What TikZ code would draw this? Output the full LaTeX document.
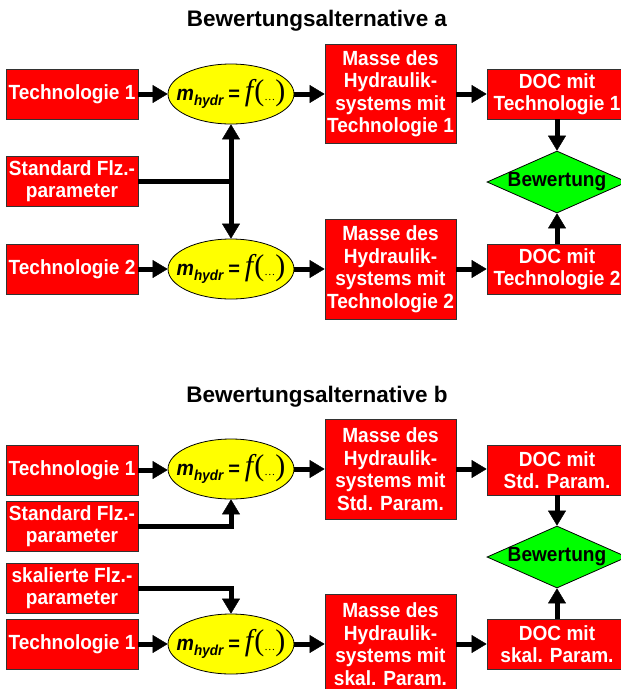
\documentclass[tikz,border=0pt]{standalone}
\usepackage{fontspec}
\setmainfont{Liberation Sans}
\newfontfamily\eqserif{Liberation Serif}
\newfontfamily\narrowsans[FakeStretch=0.93]{Liberation Sans}
\usetikzlibrary{shapes.geometric,arrows.meta}
\definecolor{boxred}{RGB}{255,0,0}
\definecolor{ellyellow}{RGB}{255,255,0}
\definecolor{diagreen}{RGB}{0,255,0}
\definecolor{edgegray}{RGB}{50,50,50}
\newcommand{\boxfont}{\narrowsans\bfseries\fontsize{20.5}{22.5}\selectfont}
\newcommand{\hydreq}{{\narrowsans\bfseries\itshape\fontsize{21}{21}\selectfont m\raisebox{-4.5pt}{\fontsize{14.5}{14.5}\selectfont hydr}}\hspace{5pt}{\bfseries\fontsize{20}{20}\selectfont =}\hspace{5pt}{\eqserif\fontsize{30}{30}\selectfont\itshape f\hspace{1pt}\upshape(\raisebox{0pt}{\fontsize{11}{11}\selectfont …})}}
\tikzset{
  redbox/.style={draw=edgegray, line width=0.8pt, fill=boxred, text=white, font=\boxfont, align=center, inner sep=0pt},
  leftbox/.style={redbox, minimum width=132pt, minimum height=50pt},
  massbox/.style={redbox, minimum width=131pt, minimum height=100pt},
  docbox/.style={redbox, minimum width=140pt, minimum height=50pt},
  yellipse/.style={ellipse, draw=black, line width=0.8pt, fill=ellyellow, minimum width=126pt, minimum height=60pt, inner sep=0pt},
  gdiamond/.style={diamond, draw=black, line width=0.8pt, fill=diagreen, minimum width=140pt, minimum height=62pt, inner sep=0pt},
  eqtext/.style={inner sep=0pt},
  diatext/.style={inner sep=0pt, font=\boxfont, text=black},
  title/.style={font=\bfseries\fontsize{22.5}{22.5}\selectfont, inner sep=0pt},
  arr/.style={line width=5pt, -{Triangle[length=15pt,width=18pt,line width=0.4pt]}},
  dblarr/.style={line width=5pt, {Triangle[length=15pt,width=18pt,line width=0.4pt]}-{Triangle[length=15pt,width=18pt,line width=0.4pt]}},
  conn/.style={line width=5pt},
}
\begin{document}
\begin{tikzpicture}[x=1pt,y=-1pt]
\useasboundingbox (0,0) rectangle (621,689);
\fill[white] (0,0) rectangle (621,689);
\clip (0,0) rectangle (621,689);

% ---------- Alternative a ----------
\node[title] (ta) at (317,21) {Bewertungsalternative a};
\node[leftbox] (t1a) at (72,94) {Technologie 1};
\node[yellipse] (e1a) at (231,94) {};
\node[eqtext] (q1a) at (e1a.center) {\hydreq};
\node[massbox, minimum height=99pt] (m1a) at (390.5,93.5) {Masse des\\Hydraulik-\\systems mit\\Technologie 1};
\node[docbox] (d1a) at (557,94) {DOC mit\\Technologie 1};
\node[gdiamond] (dia) at (557,182) {};
\node[diatext] (bwa) at (dia.center) {Bewertung};
\node[leftbox] (sfa) at (72,181) {Standard Flz.-\\parameter};
\node[leftbox] (t2a) at (72,269) {Technologie 2};
\node[yellipse] (e2a) at (231,269) {};
\node[eqtext] (q2a) at (e2a.center) {\hydreq};
\node[massbox] (m2a) at (390.5,269) {Masse des\\Hydraulik-\\systems mit\\Technologie 2};
\node[docbox] (d2a) at (557,269) {DOC mit\\Technologie 2};
\coordinate (ja) at (231,181);

\draw[arr] (t1a.east) -- (e1a.west);
\draw[arr] (e1a.east) -- (m1a.west |- e1a.east);
\draw[arr] (m1a.east |- d1a.west) -- (d1a.west);
\draw[arr] (d1a.south) -- (dia.north);
\draw[arr] (t2a.east) -- (e2a.west);
\draw[arr] (e2a.east) -- (m2a.west);
\draw[arr] (m2a.east) -- (d2a.west);
\draw[arr] (d2a.north) -- (dia.south);
\draw[conn] (sfa.east |- ja) -- ([xshift=2.5pt]ja);
\draw[dblarr] (e1a.south) -- (e2a.north);

% ---------- Alternative b ----------
\node[title] (tb) at (317,397) {Bewertungsalternative b};
\node[leftbox] (t1b) at (72,470) {Technologie 1};
\node[yellipse] (e1b) at (231,469) {};
\node[eqtext] (q1b) at (e1b.center) {\hydreq};
\node[massbox] (m1b) at (390.5,469) {Masse des\\Hydraulik-\\systems mit\\Std. Param.};
\node[docbox] (d1b) at (557,470) {DOC mit\\Std. Param.};
\node[gdiamond] (dib) at (557,557) {};
\node[diatext] (bwb) at (dib.center) {Bewertung};
\node[leftbox] (sfb) at (72,526) {Standard Flz.-\\parameter};
\node[leftbox] (skb) at (72,588) {skalierte Flz.-\\parameter};
\node[leftbox] (t2b) at (72,644) {Technologie 1};
\node[yellipse] (e2b) at (231,644) {};
\node[eqtext] (q2b) at (e2b.center) {\hydreq};
\node[massbox] (m2b) at (390.5,644) {Masse des\\Hydraulik-\\systems mit\\skal. Param.};
\node[docbox] (d2b) at (557,644) {DOC mit\\skal. Param.};

\draw[arr] (t1b.east) -- (e1b.west |- t1b.east);
\draw[arr] (e1b.east) -- (m1b.west);
\draw[arr] (m1b.east) -- (d1b.west |- m1b.east);
\draw[arr] (d1b.south) -- (dib.north);
\draw[arr] (sfb.east) -| (e1b.south);
\draw[arr] (skb.east) -| (e2b.north);
\draw[arr] (t2b.east) -- (e2b.west);
\draw[arr] (e2b.east) -- (m2b.west);
\draw[arr] (m2b.east) -- (d2b.west);
\draw[arr] (d2b.north) -- (dib.south);
\end{tikzpicture}
\end{document}
